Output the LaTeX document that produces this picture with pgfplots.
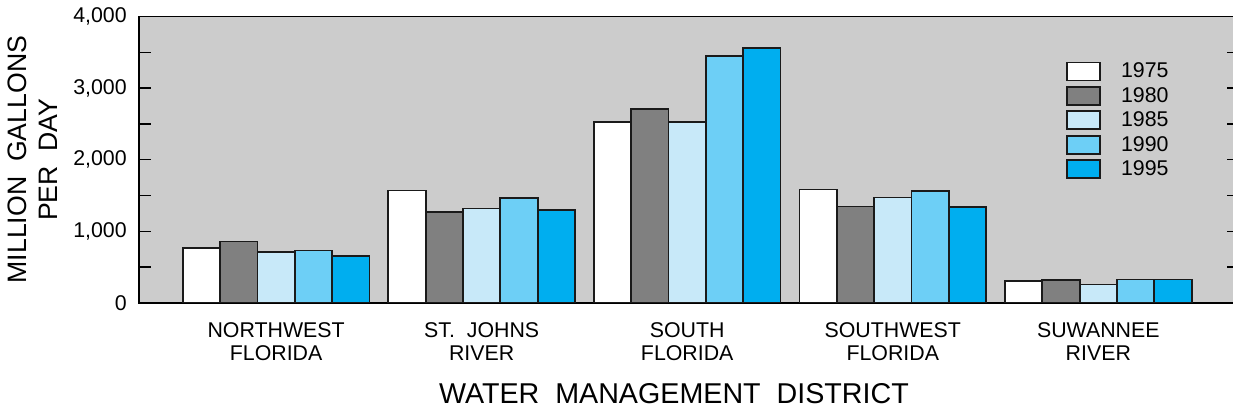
\documentclass[border=0pt]{standalone}
\usepackage{pgfplots}
\pgfplotsset{compat=1.18}
\usepackage{fontspec}
\setmainfont{Liberation Sans}
\definecolor{bg}{HTML}{CCCCCC}
\definecolor{cA}{HTML}{FFFFFF}
\definecolor{cB}{HTML}{808080}
\definecolor{cC}{HTML}{C8E9F9}
\definecolor{cD}{HTML}{6DCFF6}
\definecolor{cE}{HTML}{00AEEF}
\definecolor{edge}{HTML}{1A1A1A}
\pgfplotsset{
  mylegend/.style={legend image code/.code={%
    \draw[##1,line width=1.3pt] (0pt,-6.75pt) rectangle (24.75pt,6.75pt);
    \path[draw=none,fill=none] (0pt,-9.15pt) rectangle (40.5pt,9.15pt);}},
  barst/.style={draw=edge, line width=1.3pt, mylegend},
}
\begin{document}
\begin{tikzpicture}
\begin{axis}[name=ax, scale only axis, width=821.1pt, height=214.65pt,
  xmin=-0.667, xmax=4.659, ymin=0, ymax=4000,
  ybar=0pt, bar width=0.1816,
  axis background/.style={fill=bg},
  axis line style={line width=1.2pt},
  tick style={line width=1pt, black},
  tick align=inside,
  xtick={0,1,2,3,4},
  xticklabels={{NORTHWEST\\FLORIDA},{ST.~~JOHNS\\RIVER},{SOUTH\\FLORIDA},{SOUTHWEST\\FLORIDA},{SUWANNEE\\RIVER}},
  xtick style={draw=none},
  xticklabel style={anchor=north, inner sep=0pt, yshift=-14.5pt, align=center, font=\fontsize{16}{17.25}\selectfont},
  ytick={0,1000,2000,3000,4000},
  yticklabels={0,{1,000},{2,000},{3,000},{4,000}},
  minor ytick={500,1500,2500,3500},
  ytick pos=left,
  major tick length=9pt, minor tick length=9pt,
  yticklabel style={anchor=east, inner sep=0pt, xshift=-9pt, font=\fontsize{16}{19}\selectfont},
  every axis y label/.style={at={(axis description cs:-0.0973,0.5)}, rotate=90, anchor=center},
  ylabel={MILLION~~GALLONS\\PER~~DAY},
  ylabel style={align=center, font=\fontsize{20}{23.25}\selectfont},
  every axis x label/.style={at={(axis description cs:0.4886,-0.3173)}, anchor=center},
  xlabel={WATER~~MANAGEMENT~~DISTRICT},
  xlabel style={font=\fontsize{21.5}{25}\selectfont},
  legend style={at={(axis description cs:0.8467,0.8515)}, anchor=north west, draw=none, fill=none, inner sep=0pt, row sep=0pt, nodes={inner sep=0pt}, font=\fontsize{16}{19}\selectfont},
  legend cell align=left,
]
\addplot[barst, fill=cA, bar shift=-0.3632] coordinates {(0,761) (1,1569) (2,2523) (3,1583) (4,301)};
\addplot[barst, fill=cB, bar shift=-0.1816] coordinates {(0,854) (1,1263) (2,2708) (3,1346) (4,315)};
\addplot[barst, fill=cC, bar shift=0] coordinates {(0,705) (1,1318) (2,2523) (3,1472) (4,255)};
\addplot[barst, fill=cD, bar shift=0.1816] coordinates {(0,729) (1,1468) (2,3451) (3,1561) (4,325)};
\addplot[barst, fill=cE, bar shift=0.3632] coordinates {(0,650) (1,1291) (2,3562) (3,1338) (4,325)};
\legend{1975,1980,1985,1990,1995}
\end{axis}
\begin{axis}[scale only axis, width=821.1pt, height=214.65pt,
  xmin=-0.667, xmax=4.659, ymin=0, ymax=4000,
  hide x axis, axis y line*=right, y axis line style={draw=none},
  ytick={500,1000,1500,2000,2500,3000,3500}, yticklabels={},
  tick align=inside, major tick length=5.25pt, tick style={line width=1pt, black}]
\end{axis}
\pgfresetboundingbox
\path[use as bounding box] ([xshift=-104.25pt,yshift=-82.7pt]ax.south west) rectangle ([xshift=-0.6pt,yshift=12.4pt]ax.north east);
\end{tikzpicture}
\end{document}
